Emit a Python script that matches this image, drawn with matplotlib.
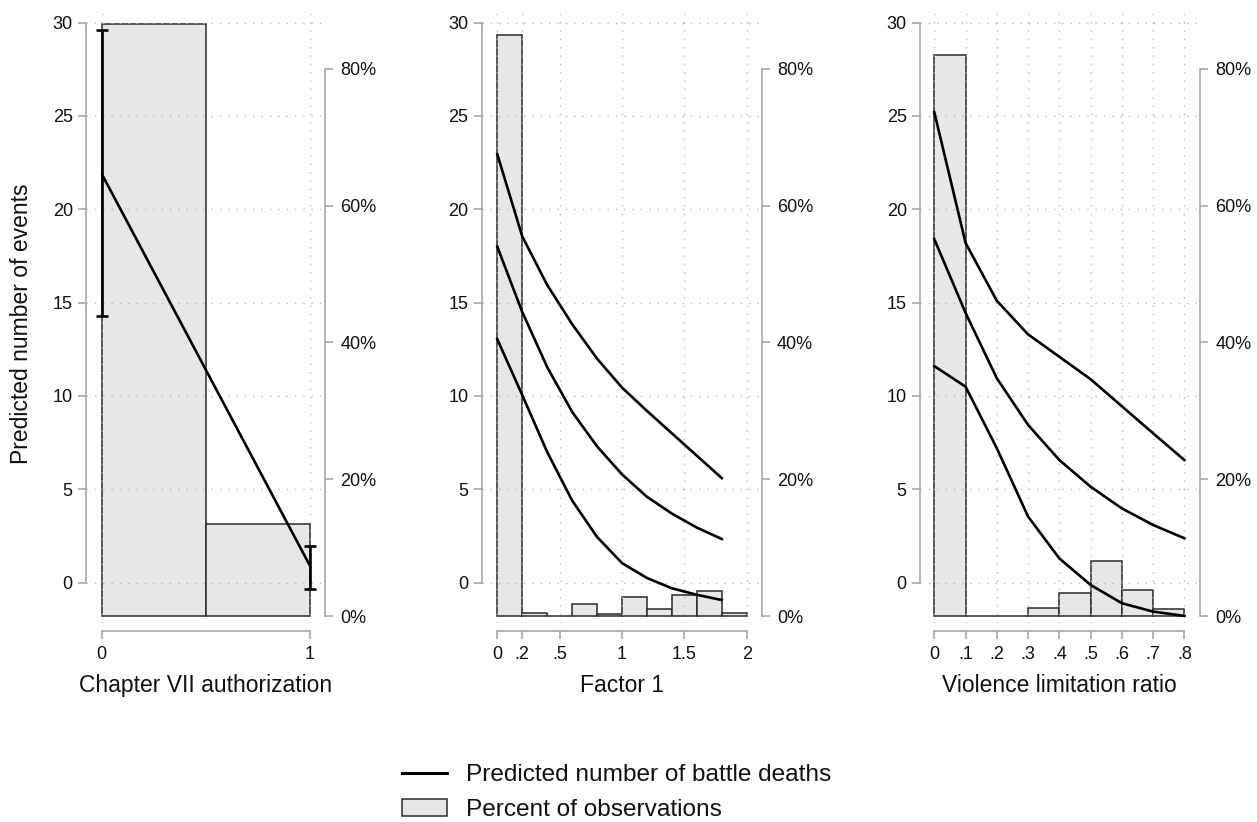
import matplotlib
matplotlib.use("Agg")
import matplotlib.pyplot as plt
from matplotlib.lines import Line2D
from matplotlib.patches import Patch
from matplotlib.transforms import blended_transform_factory

plt.rcParams['font.family'] = ['Liberation Sans', 'DejaVu Sans']

# ---------------- data ----------------
# Panel 1: Chapter VII authorization
chap_x = [0, 1]
chap_pred = [21.9, 0.9]
chap_lo = [14.3, -0.35]
chap_hi = [29.6, 1.95]
chap_bin_left = [0.0, 0.5]
chap_bin_width = 0.5
chap_pct = [86.6, 13.4]
chap_ticks = [0, 1]
chap_ticklabels = ["0", "1"]

# Panel 2: Factor 1
f1_x = [0, .2, .4, .6, .8, 1.0, 1.2, 1.4, 1.6, 1.8]
f1_hi = [22.95, 18.55, 15.95, 13.85, 12.0, 10.45, 9.2, 8.0, 6.8, 5.6]
f1_pred = [18.0, 14.5, 11.55, 9.15, 7.3, 5.8, 4.6, 3.7, 2.95, 2.34]
f1_lo = [13.04, 10.05, 7.0, 4.4, 2.45, 1.05, 0.25, -0.3, -0.65, -0.93]
f1_bin_left = [0, .2, .4, .6, .8, 1.0, 1.2, 1.4, 1.6, 1.8]
f1_bin_width = 0.2
f1_pct = [85.0, 0.4, 0.0, 1.7, 0.35, 2.77, 0.97, 3.07, 3.6, 0.49]
f1_ticks = [0, .2, .5, 1, 1.5, 2]
f1_ticklabels = ["0", ".2", ".5", "1", "1.5", "2"]

# Panel 3: Violence limitation ratio
vl_x = [0, .1, .2, .3, .4, .5, .6, .7, .8]
vl_hi = [25.2, 18.2, 15.1, 13.3, 12.1, 10.9, 9.45, 8.0, 6.57]
vl_pred = [18.4, 14.45, 10.95, 8.45, 6.57, 5.14, 3.98, 3.09, 2.38]
vl_lo = [11.6, 10.5, 7.2, 3.54, 1.3, -0.12, -1.1, -1.55, -1.78]
vl_bin_left = [0, .1, .2, .3, .4, .5, .6, .7]
vl_bin_width = 0.1
vl_pct = [82.0, 0.0, 0.0, 1.17, 3.4, 8.0, 3.85, 1.08]
vl_ticks = [0, .1, .2, .3, .4, .5, .6, .7, .8]
vl_ticklabels = ["0", ".1", ".2", ".3", ".4", ".5", ".6", ".7", ".8"]

y_ticks = [0, 5, 10, 15, 20, 25, 30]
pct_ticks = [0, 20, 40, 60, 80]
pct_ticklabels = ["0%", "20%", "40%", "60%", "80%"]

xlabels = ["Chapter VII authorization", "Factor 1", "Violence limitation ratio"]
ylabel = "Predicted number of events"
legend_labels = ["Predicted number of battle deaths", "Percent of observations"]

# ---------------- style ----------------
W, H = 1257, 822
BAR = "#e7e7e7"
EDGE = "#2a2a2a"
SPINE = "#a0a0a0"
GRID = "#b8b8b8"
TXT = "#111111"
LW = 1.9

fig = plt.figure(figsize=(W / 100, H / 100), dpi=100)
fig.patch.set_facecolor("white")
top_px, bot_px = 9, 623

panels = [
    dict(l=86, r=325, xlim=(-0.0754, 1.072), ticks=chap_ticks, tl=chap_ticklabels,
         bins=chap_bin_left, bw=chap_bin_width, pct=chap_pct),
    dict(l=481.7, r=761.7, xlim=(-0.125, 2.12), ticks=f1_ticks, tl=f1_ticklabels,
         bins=f1_bin_left, bw=f1_bin_width, pct=f1_pct),
    dict(l=920, r=1200, xlim=(-0.0458, 0.850), ticks=vl_ticks, tl=vl_ticklabels,
         bins=vl_bin_left, bw=vl_bin_width, pct=vl_pct),
]

axes = []
for i, p in enumerate(panels):
    ax = fig.add_axes([p['l'] / W, 1 - bot_px / H, (p['r'] - p['l']) / W, (bot_px - top_px) / H])
    tw = ax.twinx()
    ax.set_zorder(2)
    ax.patch.set_visible(False)
    tw.set_zorder(1)

    tw.bar(p['bins'], p['pct'], width=p['bw'], align='edge', color=BAR,
           edgecolor=EDGE, linewidth=1.1)

    ax.set_xlim(*p['xlim'])
    ax.set_ylim(-2.16, 30.73)
    tw.set_ylim(-1.02, 88.74)

    ax.set_xticks(p['ticks'])
    ax.set_xticklabels(p['tl'])
    ax.set_yticks(y_ticks)
    ax.set_yticklabels([str(v) for v in y_ticks])
    tw.set_yticks(pct_ticks)
    tw.set_yticklabels(pct_ticklabels)

    for s in ['top', 'right']:
        ax.spines[s].set_visible(False)
    for s in ['top', 'left', 'bottom']:
        tw.spines[s].set_visible(False)
    ax.spines['left'].set_bounds(y_ticks[0], y_ticks[-1])
    ax.spines['bottom'].set_position(('outward', 6))
    ax.spines['bottom'].set_bounds(p['ticks'][0], p['ticks'][-1])
    tw.spines['right'].set_bounds(pct_ticks[0], pct_ticks[-1])
    for sp in [ax.spines['left'], ax.spines['bottom'], tw.spines['right']]:
        sp.set_color(SPINE)
        sp.set_linewidth(1.1)

    ax.tick_params(axis='both', direction='out', length=6, width=1.1, color=SPINE,
                   labelsize=13, labelcolor=TXT)
    ax.tick_params(axis='y', pad=3.5)
    ax.tick_params(axis='x', pad=4.5)
    tw.tick_params(axis='y', direction='out', length=6, width=1.1, color=SPINE,
                   labelsize=13, labelcolor=TXT, pad=5)

    ax.grid(True, color=GRID, linestyle=(0, (1, 5)), linewidth=1.0)

    trans = blended_transform_factory(ax.transData, fig.transFigure)
    mid = (p['ticks'][0] + p['ticks'][-1]) / 2
    ax.text(mid, 1 - 691.7 / H, xlabels[i], transform=trans, ha='center',
            va='baseline', fontsize=16.5, color=TXT)
    axes.append(ax)

# Panel 1 lines
a1 = axes[0]
a1.plot(chap_x, chap_pred, color='black', lw=LW, solid_capstyle='butt')
a1.errorbar(chap_x, chap_pred,
            yerr=[[c - l for c, l in zip(chap_pred, chap_lo)],
                  [h - c for c, h in zip(chap_pred, chap_hi)]],
            fmt='none', ecolor='black', elinewidth=LW, capsize=4.2, capthick=LW)

# Panel 2 lines
a2 = axes[1]
for series in (f1_hi, f1_pred, f1_lo):
    a2.plot(f1_x, series, color='black', lw=LW, solid_joinstyle='round')

# Panel 3 lines
a3 = axes[2]
for series in (vl_hi, vl_pred, vl_lo):
    a3.plot(vl_x, series, color='black', lw=LW, solid_joinstyle='round')

fig.text(21.7 / W, 1 - 323.7 / H, ylabel, rotation=90, ha='center', va='center',
         fontsize=16.5, color=TXT)

handles = [Line2D([], [], color='black', lw=2.2),
           Patch(facecolor=BAR, edgecolor=EDGE, linewidth=1.1)]
fig.legend(handles=handles, labels=legend_labels, loc='center left',
           bbox_to_anchor=(402 / W, 1 - 792.5 / H), frameon=False, fontsize=17.6,
           handlelength=1.85, handletextpad=0.75, labelspacing=0.5, borderpad=0,
           borderaxespad=0, labelcolor=TXT)

fig.savefig("out.png", dpi=100, facecolor="white")
